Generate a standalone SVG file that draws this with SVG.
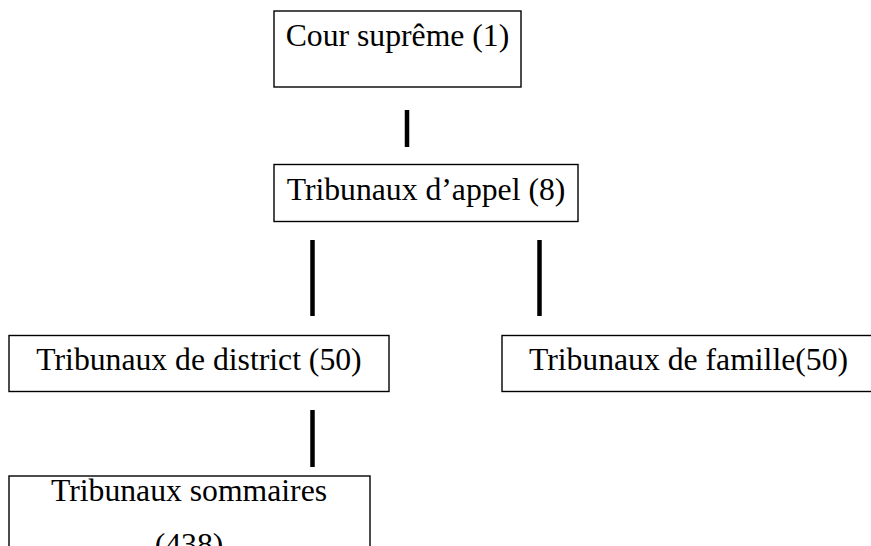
<svg xmlns="http://www.w3.org/2000/svg" width="871" height="546" viewBox="0 0 871 546">
<style>
.box{fill:#fff;stroke:#000;stroke-width:1.4}
.lbl{font-family:"Liberation Serif","Times New Roman",serif;font-size:31.7px;fill:#000;text-anchor:middle}
.conn{stroke:#000;stroke-width:4.5;fill:none}
</style>
<rect width="871" height="546" fill="#fff"/>
<g id="connectors">
<line class="conn" x1="407" y1="110" x2="407" y2="147"/>
<line class="conn" x1="312.5" y1="240" x2="312.5" y2="316"/>
<line class="conn" x1="539.5" y1="240" x2="539.5" y2="316"/>
<line class="conn" x1="312.5" y1="410" x2="312.5" y2="467"/>
</g>
<g id="cour-supreme">
<rect class="box" x="274" y="11" width="247" height="76"/>
<text class="lbl" x="397.5" y="46">Cour suprême (1)</text>
</g>
<g id="tribunaux-appel">
<rect class="box" x="274" y="164.5" width="304" height="57"/>
<text class="lbl" x="426" y="200">Tribunaux d’appel (8)</text>
</g>
<g id="tribunaux-district">
<rect class="box" x="9" y="335.5" width="380" height="56"/>
<text class="lbl" x="199" y="369.5">Tribunaux de district (50)</text>
</g>
<g id="tribunaux-famille">
<rect class="box" x="502" y="335.5" width="375" height="56"/>
<text class="lbl" x="688.5" y="369.5">Tribunaux de famille(50)</text>
</g>
<g id="tribunaux-sommaires">
<rect class="box" x="9" y="476" width="361" height="90"/>
<text class="lbl" x="189" y="500.5">Tribunaux sommaires</text>
<text class="lbl" x="189" y="555">(438)</text>
</g>
</svg>
